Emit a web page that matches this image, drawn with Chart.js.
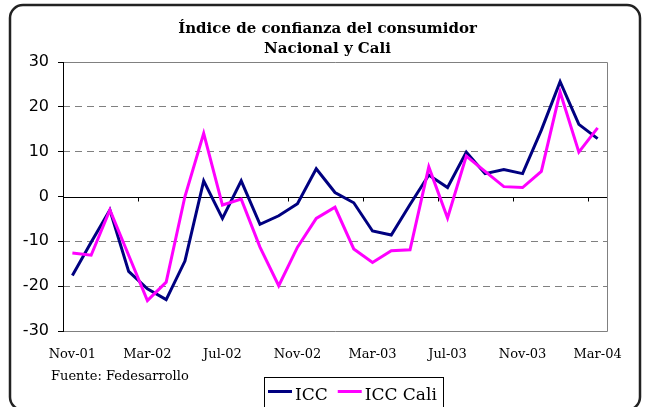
<!DOCTYPE html>
<html>
<head>
<meta charset="utf-8">
<script src="https://cdn.jsdelivr.net/npm/chart.js@4.4.1/dist/chart.umd.min.js"></script>
<style>
  body { margin: 0; background: #fff; }
  canvas { display: block; }
</style>
</head>
<body>
<canvas id="iccChart" width="648" height="407"></canvas>
<script>
/**
 * DATA
 */
const months = [
  'Nov-01', 'Dic-01', 'Ene-02', 'Feb-02', 'Mar-02', 'Abr-02', 'May-02', 'Jun-02',
  'Jul-02', 'Ago-02', 'Sep-02', 'Oct-02', 'Nov-02', 'Dic-02', 'Ene-03', 'Feb-03',
  'Mar-03', 'Abr-03', 'May-03', 'Jun-03', 'Jul-03', 'Ago-03', 'Sep-03', 'Oct-03',
  'Nov-03', 'Dic-03', 'Ene-04', 'Feb-04', 'Mar-04'
];
const iccNacional = [
  -17.6, -10.2, -3.0, -16.7, -20.6, -23.0, -14.4, 3.5, -4.9, 3.5,
  -6.2, -4.3, -1.6, 6.2, 0.9, -1.4, -7.7, -8.6, -1.8, 4.8,
  2.0, 9.9, 5.1, 6.0, 5.1, 14.8, 25.6, 16.1, 12.9
];
const iccCali = [
  -12.6, -13.1, -3.0, -13.1, -23.2, -19.1, 0.0, 14.1, -1.9, -0.6,
  -11.3, -19.9, -11.3, -4.9, -2.4, -11.7, -14.7, -12.1, -11.9, 6.6,
  -4.8, 9.0, 5.6, 2.2, 2.0, 5.6, 23.3, 9.9, 15.3
];
const yTicks = [-30, -20, -10, 0, 10, 20, 30];
const labelEvery = 4;

const titleLines = ['Índice de confianza del consumidor', 'Nacional y Cali'];
const sourceNote = 'Fuente: Fedesarrollo';

/**
 * DECORATION PLUGIN (frame, axis lines, title, legend box)
 */
const decor = {
  id: 'decor',
  beforeDraw(chart) {
    const c = chart.ctx;
    c.save();
    c.fillStyle = '#fff';
    c.fillRect(0, 0, chart.width, chart.height);
    // rounded outer frame
    c.strokeStyle = '#222';
    c.lineWidth = 2.5;
    c.beginPath();
    c.roundRect(10, 5, 630, 405, 13);
    c.stroke();
    c.restore();
  },
  beforeDatasetsDraw(chart) {
    const c = chart.ctx, a = chart.chartArea;
    const x = chart.scales.x, y = chart.scales.y;
    c.save();
    c.lineWidth = 1;
    // plot border
    c.strokeStyle = '#808080';
    c.beginPath();
    c.moveTo(a.left, a.top + 0.5); c.lineTo(a.right + 0.5, a.top + 0.5);
    c.lineTo(a.right + 0.5, a.bottom + 0.5); c.lineTo(a.left, a.bottom + 0.5);
    c.stroke();
    // value axis
    c.strokeStyle = '#000';
    c.beginPath();
    c.moveTo(a.left + 0.5, a.top); c.lineTo(a.left + 0.5, a.bottom + 1);
    c.stroke();
    // zero line with category tick marks
    const y0 = Math.round(y.getPixelForValue(0)) + 0.5;
    c.beginPath();
    c.moveTo(a.left, y0); c.lineTo(a.right, y0);
    const half = (x.getPixelForValue(1) - x.getPixelForValue(0)) / 2;
    for (let i = labelEvery; i < months.length; i += labelEvery) {
      const px = Math.round(x.getPixelForValue(i) - half) + 0.5;
      c.moveTo(px, y0); c.lineTo(px, y0 + 4);
    }
    c.stroke();
    c.restore();
  },
  afterDraw(chart) {
    const c = chart.ctx;
    c.save();
    c.fillStyle = '#000';
    c.textAlign = 'center';
    c.textBaseline = 'alphabetic';
    c.font = 'bold 15px "DejaVu Serif"';
    c.fillText(titleLines[0], 327.5, 33);
    c.fillText(titleLines[1], 327.5, 52.5);

    c.textAlign = 'left';
    c.font = '13px "DejaVu Serif"';
    c.fillText(sourceNote, 51, 380);

    // legend box
    c.strokeStyle = '#000';
    c.lineWidth = 1;
    c.strokeRect(264.5, 377.5, 179, 32);
    c.font = '17px "DejaVu Serif"';
    let lx = 268;
    chart.data.datasets.forEach(ds => {
      c.strokeStyle = ds.borderColor;
      c.lineWidth = 3;
      c.beginPath();
      c.moveTo(lx, 391.5); c.lineTo(lx + 24, 391.5);
      c.stroke();
      c.fillText(ds.label, lx + 27, 399.5);
      lx += 27 + c.measureText(ds.label).width + 10;
    });
    c.restore();
  }
};

/**
 * CHART
 */
new Chart(document.getElementById('iccChart'), {
  type: 'line',
  data: {
    labels: months,
    datasets: [
      { label: 'ICC', data: iccNacional, borderColor: '#000080', borderWidth: 3, order: 1 },
      { label: 'ICC Cali', data: iccCali, borderColor: '#ff00ff', borderWidth: 3, order: 0 }
    ]
  },
  options: {
    responsive: false,
    animation: false,
    layout: { padding: { top: 62, left: 0, right: 41, bottom: 0 } },
    elements: {
      point: { radius: 0, hoverRadius: 0 },
      line: { tension: 0, fill: false, borderJoinStyle: 'miter' }
    },
    plugins: {
      legend: { display: false },
      title: { display: false },
      tooltip: { enabled: false }
    },
    scales: {
      x: {
        offset: true,
        grid: { display: false, drawTicks: false },
        border: { display: false },
        ticks: {
          autoSkip: false,
          maxRotation: 0,
          padding: 16,
          color: '#000',
          font: { family: 'DejaVu Serif', size: 13 },
          callback: (v, i) => (i % labelEvery === 0 ? months[i] : '')
        },
        afterFit(s) { s.height = 76; s.paddingLeft = 0; s.paddingRight = 0; }
      },
      y: {
        min: yTicks[0],
        max: yTicks[yTicks.length - 1],
        afterBuildTicks(s) { s.ticks = yTicks.map(v => ({ value: v })); },
        grid: {
          color: ctx => (Math.abs(ctx.tick.value) === 30 || ctx.tick.value === 0 ? 'rgba(0,0,0,0)' : '#808080'),
          lineWidth: 1,
          tickColor: '#000',
          tickLength: 5
        },
        border: { display: false, dash: [7, 5] },
        ticks: {
          padding: 9,
          color: '#000',
          font: { family: 'DejaVu Sans', size: 16 }
        },
        afterFit(s) { s.width = 63; s.paddingTop = 0; s.paddingBottom = 0; }
      }
    }
  },
  plugins: [decor]
});
</script>
</body>
</html>
